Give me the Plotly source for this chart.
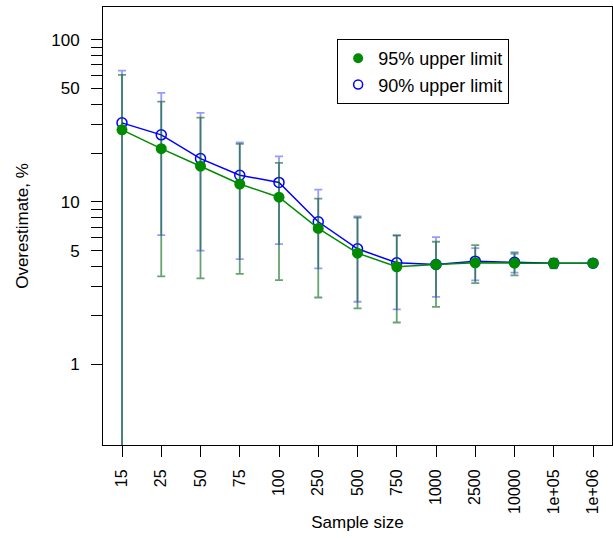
import plotly.graph_objects as go

sizes = ["15", "25", "50", "75", "100", "250", "500", "750", "1000", "2500", "10000", "1e+05", "1e+06"]

est95 = [27.8, 21.3, 16.6, 12.9, 10.7, 6.87, 4.84, 3.99, 4.12, 4.22, 4.20, 4.19, 4.20]
up95 = [60.6, 41.5, 33.1, 22.8, 17.4, 10.5, 8.0, 6.2, 5.69, 5.42, 4.89, 4.47, 4.38]
lo95 = [0.05, 3.48, 3.38, 3.61, 3.30, 2.58, 2.21, 1.81, 2.26, 3.16, 3.53, 3.90, 3.97]

est90 = [30.7, 25.9, 18.5, 14.6, 13.2, 7.55, 5.15, 4.22, 4.12, 4.32, 4.25, 4.19, 4.20]
up90 = [64.4, 47.0, 35.4, 23.3, 19.1, 11.9, 8.15, 6.25, 6.07, 5.20, 4.80, 4.43, 4.36]
lo90 = [0.05, 6.25, 5.01, 4.45, 5.50, 3.90, 2.43, 2.18, 2.60, 3.29, 3.67, 3.95, 4.00]

ytick_vals = [1, 2, 3, 4, 5, 6, 7, 8, 9, 10, 20, 30, 40, 50, 60, 70, 80, 90, 100]
ytick_text = ["1", "", "", "", "5", "", "", "", "", "10", "", "", "", "50", "", "", "", "", "100"]

GREEN = "#008B00"
BLUE = "#0000FF"
FONT = "Liberation Sans, Arial, sans-serif"

xi = list(range(len(sizes)))

fig = go.Figure()

fig.add_trace(go.Scatter(
    x=xi, y=est90, mode="lines+markers", showlegend=False,
    line=dict(color=BLUE, width=1.5),
    marker=dict(symbol="circle-open", size=10, color=BLUE, line=dict(width=1.5)),
    error_y=dict(type="data", symmetric=False,
                 array=[u - e for u, e in zip(up90, est90)],
                 arrayminus=[e - l for e, l in zip(est90, lo90)],
                 color="rgba(0,0,255,0.4)", thickness=1.8, width=4),
))
fig.add_trace(go.Scatter(
    x=xi, y=est95, mode="lines+markers", showlegend=False,
    line=dict(color=GREEN, width=1.5),
    marker=dict(symbol="circle", size=11, color=GREEN),
    error_y=dict(type="data", symmetric=False,
                 array=[u - e for u, e in zip(up95, est95)],
                 arrayminus=[e - l for e, l in zip(est95, lo95)],
                 color="rgba(0,100,20,0.6)", thickness=1.8, width=4),
))

# legend-only entries (markers only, as in the reference)
fig.add_trace(go.Scatter(x=[None], y=[None], mode="markers", name="95% upper limit",
                         marker=dict(symbol="circle", size=10, color=GREEN)))
fig.add_trace(go.Scatter(x=[None], y=[None], mode="markers", name="90% upper limit",
                         marker=dict(symbol="circle-open", size=9, color=BLUE, line=dict(width=1.5))))

fig.update_xaxes(
    range=[-0.484, 12.484],
    tickmode="array", tickvals=xi, ticktext=sizes,
    tickangle=-90, ticks="outside", ticklen=11, tickcolor="black", tickwidth=1,
    ticklabelstandoff=6,
    showline=True, linecolor="black", linewidth=1, mirror=True,
    showgrid=False, zeroline=False,
    tickfont=dict(size=16, color="black", family=FONT),
    title=dict(text="Sample size", font=dict(size=17, color="black", family=FONT), standoff=2),
)
fig.update_yaxes(
    type="log", range=[-0.4966, 2.2006],
    tickmode="array", tickvals=ytick_vals, ticktext=ytick_text,
    ticks="outside", ticklen=11, tickcolor="black", tickwidth=1,
    ticklabelstandoff=8,
    showline=True, linecolor="black", linewidth=1, mirror=True,
    showgrid=False, zeroline=False,
    tickfont=dict(size=17, color="black", family=FONT),
    title=dict(text="Overestimate, %", font=dict(size=17, color="black", family=FONT), standoff=18),
)

fig.update_layout(
    width=613, height=538,
    margin=dict(l=103, r=1, t=7, b=93, autoexpand=False),
    paper_bgcolor="white", plot_bgcolor="white",
    font=dict(family=FONT, color="black"),
    legend=dict(x=0.46, y=0.927, xanchor="left", yanchor="top",
                bordercolor="black", borderwidth=1, bgcolor="white",
                font=dict(size=18, color="black", family=FONT),
                itemwidth=30, tracegroupgap=0),
)

fig.write_html("out.html", config={"displayModeBar": False},
               post_script="document.body.style.margin='0';document.body.style.overflow='hidden';")
